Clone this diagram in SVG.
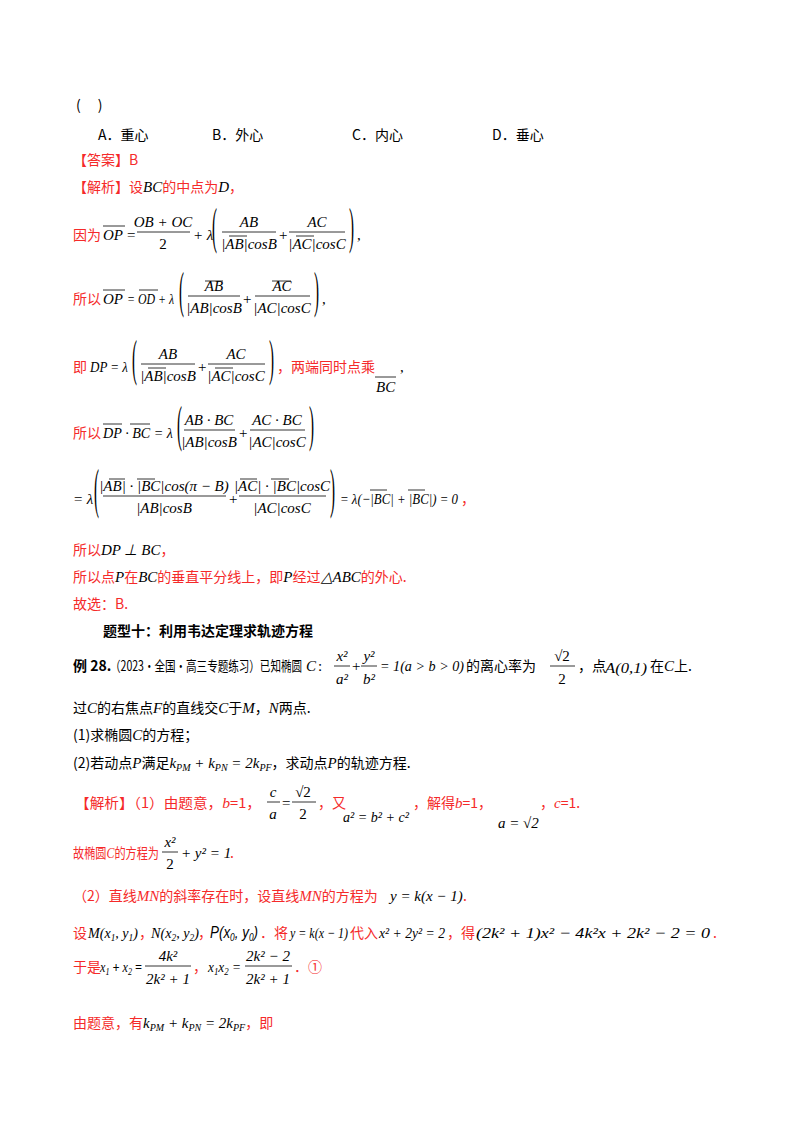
<svg xmlns="http://www.w3.org/2000/svg" width="800" height="1132" viewBox="0 0 800 1132">
<style>
text{font-family:"Liberation Serif","Noto Sans CJK SC",serif;font-size:14px;fill:#000}
.cn{font-family:"Noto Sans CJK SC",sans-serif;font-size:14px}
.m{font-family:"Liberation Serif",serif;font-style:italic;font-size:15px}
.n{font-family:"Liberation Serif",serif;font-style:normal;font-size:15px}
.s{font-size:10px}
.r{fill:#f52a2a}
.b{font-weight:bold}
.c{text-anchor:middle}
.p{font-family:"Liberation Serif",serif;font-size:15px;fill:#000}
line{stroke:#000;stroke-width:0.8}
</style>
<rect width="800" height="1132" fill="#fff"/>
<g id="question">
<text class="cn" x="76" y="110">(　 )</text>
<text class="cn" x="98" y="140">A．重心</text>
<text class="cn" x="212" y="140">B．外心</text>
<text class="cn" x="352" y="140">C．内心</text>
<text class="cn" x="492" y="140">D．垂心</text>
<text class="cn r" x="73" y="165">【答案】B</text>
<text class="cn r" x="73" y="192">【解析】设<tspan class="m" fill="#000">BC</tspan>的中点为<tspan class="m" fill="#000">D</tspan>，</text>
</g>
<g id="line1">
<text class="cn r" x="73" y="240">因为</text>
<text class="m" x="103" y="240">OP</text><line x1="103" y1="226" x2="125" y2="226"/>
<text class="n" x="127" y="240">=</text>
<text class="m c" x="163" y="227">OB + OC</text><line x1="137" y1="232" x2="190" y2="232"/><text class="n c" x="163" y="249">2</text>
<text class="m" x="193" y="240">+ λ</text>
<text class="p" transform="translate(212,243) scale(1,3.4)">(</text>
<text class="m c" x="249" y="227">AB</text><line x1="222" y1="232" x2="276" y2="232"/><text class="m c" x="249" y="249">|AB|cosB</text><line x1="229" y1="236" x2="247" y2="236"/>
<text class="n" x="279" y="240">+</text>
<text class="m c" x="317" y="227">AC</text><line x1="289" y1="232" x2="345" y2="232"/><text class="m c" x="317" y="249">|AC|cosC</text><line x1="296" y1="236" x2="314" y2="236"/>
<text class="p" transform="translate(349,243) scale(1,3.4)">)</text>
<text class="n" x="357" y="240">,</text>
</g>
<g id="line2">
<text class="cn r" x="73" y="304">所以</text>
<text class="m" x="103" y="304">OP</text><line x1="103" y1="290" x2="125" y2="290"/>
<text class="m" x="127" y="304" textLength="47" lengthAdjust="spacingAndGlyphs">= OD + λ</text><line x1="139" y1="290" x2="158" y2="290"/>
<text class="p" transform="translate(179,307) scale(1,3.4)">(</text>
<text class="m c" x="214" y="291">AB</text><line x1="205" y1="281" x2="223" y2="281"/><line x1="188" y1="296" x2="240" y2="296"/><text class="m c" x="214" y="313">|AB|cosB</text>
<text class="n" x="243" y="304">+</text>
<text class="m c" x="282" y="291">AC</text><line x1="272" y1="281" x2="291" y2="281"/><line x1="255" y1="296" x2="310" y2="296"/><text class="m c" x="282" y="313">|AC|cosC</text>
<text class="p" transform="translate(314,307) scale(1,3.4)">)</text>
<text class="n" x="322" y="304">,</text>
</g>
<g id="line3">
<text class="cn r" x="73" y="372">即</text>
<text class="m" x="90" y="372" textLength="38" lengthAdjust="spacingAndGlyphs">DP = λ</text>
<text class="p" transform="translate(132,375) scale(1,3.4)">(</text>
<text class="m c" x="168" y="359">AB</text><line x1="141" y1="364" x2="195" y2="364"/><text class="m c" x="168" y="381">|AB|cosB</text><line x1="148" y1="368" x2="166" y2="368"/>
<text class="n" x="198" y="372">+</text>
<text class="m c" x="236" y="359">AC</text><line x1="208" y1="364" x2="265" y2="364"/><text class="m c" x="236" y="381">|AC|cosC</text><line x1="215" y1="368" x2="233" y2="368"/>
<text class="p" transform="translate(269,375) scale(1,3.4)">)</text>
<text class="cn r" x="277" y="372">，两端同时点乘</text>
<text class="m" x="376" y="392">BC</text><line x1="375" y1="377" x2="396" y2="377"/>
<text class="n" x="400" y="372">,</text>
</g>
<g id="line4">
<text class="cn r" x="73" y="438">所以</text>
<text class="m" x="103" y="438" textLength="70" lengthAdjust="spacingAndGlyphs">DP · BC = λ</text><line x1="103" y1="424" x2="122" y2="424"/><line x1="130" y1="424" x2="150" y2="424"/>
<text class="p" transform="translate(177,441) scale(1,3.4)">(</text>
<text class="m c" x="209" y="425">AB · BC</text><line x1="184" y1="430" x2="235" y2="430"/><text class="m c" x="209" y="447">|AB|cosB</text>
<text class="n" x="239" y="438">+</text>
<text class="m c" x="277" y="425">AC · BC</text><line x1="250" y1="430" x2="305" y2="430"/><text class="m c" x="277" y="447">|AC|cosC</text>
<text class="p" transform="translate(309,441) scale(1,3.4)">)</text>
</g>
<g id="line5">
<text class="m" x="73" y="504">= λ</text>
<text class="p" transform="translate(94,507) scale(1,3.6)">(</text>
<text class="m c" x="164" y="491">|AB| · |BC|cos(π − B)</text><line x1="103" y1="496" x2="226" y2="496"/><text class="m c" x="164" y="513">|AB|cosB</text>
<line x1="109" y1="479" x2="125" y2="479"/><line x1="137" y1="479" x2="155" y2="479"/>
<text class="n" x="229" y="504">+</text>
<text class="m c" x="282" y="491">|AC| · |BC|cosC</text><line x1="239" y1="496" x2="326" y2="496"/><text class="m c" x="282" y="513">|AC|cosC</text>
<line x1="240" y1="479" x2="257" y2="479"/><line x1="271" y1="479" x2="289" y2="479"/>
<text class="p" transform="translate(330,507) scale(1,3.6)">)</text>
<text class="m" x="340" y="504" textLength="118" lengthAdjust="spacingAndGlyphs">= λ(−|BC| + |BC|) = 0</text>
<line x1="370" y1="490" x2="387" y2="490"/><line x1="408" y1="490" x2="425" y2="490"/>
<text class="cn r" x="461" y="504">，</text>
</g>
<g id="conclusion">
<text class="cn r" x="73" y="555">所以<tspan class="m" fill="#000">DP ⊥ BC</tspan>，</text>
<text class="cn r" x="73" y="582">所以点<tspan class="m" fill="#000">P</tspan>在<tspan class="m" fill="#000">BC</tspan>的垂直平分线上，即<tspan class="m" fill="#000">P</tspan>经过<tspan class="m" fill="#000" font-size="12">△ABC</tspan>的外心.</text>
<text class="cn r" x="73" y="609">故选：B.</text>
<text class="cn b" x="103" y="636">题型十：利用韦达定理求轨迹方程</text>
</g>
<g id="example">
<text class="cn b" x="73" y="671">例 28.</text>
<text class="cn" x="110" y="671" textLength="192" lengthAdjust="spacingAndGlyphs">（2023·全国·高三专题练习）已知椭圆</text>
<text class="m" x="306" y="671">C</text><text class="n" x="318" y="671">:</text>
<text class="m c" x="342" y="661">x²</text><line x1="334" y1="666" x2="350" y2="666"/><text class="m c" x="342" y="684">a²</text>
<text class="n" x="352" y="671">+</text>
<text class="m c" x="369" y="661">y²</text><line x1="361" y1="666" x2="377" y2="666"/><text class="m c" x="369" y="684">b²</text>
<text class="m" x="380" y="671" textLength="84" lengthAdjust="spacingAndGlyphs">= 1(a &gt; b &gt; 0)</text>
<text class="cn" x="466" y="671">的离心率为</text>
<text class="n c" x="562" y="661">√2</text><line x1="550" y1="666" x2="575" y2="666"/><text class="n c" x="562" y="684">2</text>
<text class="cn" x="578" y="671">，点</text>
<text class="m" x="605" y="673" textLength="42" lengthAdjust="spacingAndGlyphs">A(0,1)</text>
<text class="cn" x="650" y="671">在<tspan class="m">C</tspan>上.</text>
<text class="cn" x="73" y="713">过<tspan class="m">C</tspan>的右焦点<tspan class="m">F</tspan>的直线交<tspan class="m">C</tspan>于<tspan class="m">M</tspan>，<tspan class="m">N</tspan>两点.</text>
<text class="cn" x="73" y="740">(1)求椭圆<tspan class="m">C</tspan>的方程；</text>
<text class="cn" x="73" y="768">(2)若动点<tspan class="m">P</tspan>满足<tspan class="m">k<tspan class="s" dy="3">PM</tspan><tspan dy="-3"> + k</tspan><tspan class="s" dy="3">PN</tspan><tspan dy="-3"> = 2k</tspan><tspan class="s" dy="3">PF</tspan></tspan><tspan dy="-3">，求动点</tspan><tspan class="m">P</tspan>的轨迹方程.</text>
</g>
<g id="solution">
<text class="cn r" x="75" y="808" textLength="186" lengthAdjust="spacingAndGlyphs">【解析】（1）由题意，<tspan class="m">b</tspan>=1，</text>
<text class="m c" x="273" y="797">c</text><line x1="267" y1="802" x2="280" y2="802"/><text class="m c" x="273" y="819">a</text>
<text class="n" x="282" y="808">=</text>
<text class="n c" x="303" y="797">√2</text><line x1="292" y1="802" x2="316" y2="802"/><text class="n c" x="303" y="819">2</text>
<text class="cn r" x="318" y="808">，又</text>
<text class="m" x="343" y="822" textLength="66" lengthAdjust="spacingAndGlyphs">a² = b² + c²</text>
<text class="cn r" x="413" y="808">，解得<tspan class="m">b</tspan>=1，</text>
<text class="m" x="498" y="828">a = √2</text>
<text class="cn r" x="540" y="808">，<tspan class="m">c</tspan>=1.</text>
<text class="cn r" x="73" y="858" textLength="86" lengthAdjust="spacingAndGlyphs">故椭圆<tspan class="m">C</tspan>的方程为</text>
<text class="m c" x="170" y="847">x²</text><line x1="162" y1="852" x2="178" y2="852"/><text class="n c" x="170" y="869">2</text>
<text class="m" x="181" y="858">+ y² = 1</text>
<text class="cn r" x="230" y="858">.</text>
<text class="cn r" x="73" y="901">（2）直线<tspan class="m">MN</tspan>的斜率存在时，设直线<tspan class="m">MN</tspan>的方程为</text>
<text class="m" x="390" y="901">y = k(x − 1)</text>
<text class="cn r" x="463" y="901">.</text>
<text class="cn r" x="73" y="938">设</text>
<text class="m" x="88" y="938" textLength="50" lengthAdjust="spacingAndGlyphs">M(x<tspan class="s" dy="3">1</tspan><tspan dy="-3">, y</tspan><tspan class="s" dy="3">1</tspan><tspan dy="-3">)</tspan></text>
<text class="cn r" x="139" y="938">，</text>
<text class="m" x="151" y="938" textLength="48" lengthAdjust="spacingAndGlyphs">N(x<tspan class="s" dy="3">2</tspan><tspan dy="-3">, y</tspan><tspan class="s" dy="3">2</tspan><tspan dy="-3">)</tspan></text>
<text class="cn r" x="198" y="938">，</text>
<text x="210" y="938" textLength="48" lengthAdjust="spacingAndGlyphs" style="font-family:'Liberation Sans',sans-serif;font-style:italic;font-size:16px">P(x<tspan font-size="10" dy="3">0</tspan><tspan dy="-3">, y</tspan><tspan font-size="10" dy="3">0</tspan><tspan dy="-3">)</tspan></text>
<text class="cn r" x="260" y="938">．将</text>
<text class="m" x="290" y="938" textLength="58" lengthAdjust="spacingAndGlyphs">y = k(x − 1)</text>
<text class="cn r" x="350" y="938">代入</text>
<text class="m" x="379" y="938" textLength="66" lengthAdjust="spacingAndGlyphs">x² + 2y² = 2</text>
<text class="cn r" x="447" y="938">，得</text>
<text class="m" x="476" y="938" textLength="234" lengthAdjust="spacingAndGlyphs">(2k² + 1)x² − 4k²x + 2k² − 2 = 0</text>
<text class="cn r" x="713" y="938">.</text>
<text class="cn r" x="73" y="972">于是</text>
<text class="m" x="100" y="972" textLength="42" lengthAdjust="spacingAndGlyphs">x<tspan class="s" dy="3">1</tspan><tspan dy="-3" font-weight="bold"> + </tspan>x<tspan class="s" dy="3">2</tspan><tspan dy="-3" font-weight="bold"> =</tspan></text>
<text class="m c" x="168" y="961">4k²</text><line x1="145" y1="966" x2="191" y2="966"/><text class="m c" x="168" y="984">2k² + 1</text>
<text class="cn r" x="193" y="972">，</text>
<text class="m" x="208" y="972" textLength="33" lengthAdjust="spacingAndGlyphs">x<tspan class="s" dy="3">1</tspan><tspan dy="-3">x</tspan><tspan class="s" dy="3">2</tspan><tspan dy="-3"> =</tspan></text>
<text class="m c" x="268" y="961">2k² − 2</text><line x1="245" y1="966" x2="292" y2="966"/><text class="m c" x="268" y="984">2k² + 1</text>
<text class="cn r" x="294" y="972">．①</text>
<text class="cn r" x="73" y="1028">由题意，有<tspan class="m" fill="#000">k<tspan class="s" dy="3">PM</tspan><tspan dy="-3"> + k</tspan><tspan class="s" dy="3">PN</tspan><tspan dy="-3"> = 2k</tspan><tspan class="s" dy="3">PF</tspan></tspan><tspan dy="-3">，即</tspan></text>
</g>
</svg>
